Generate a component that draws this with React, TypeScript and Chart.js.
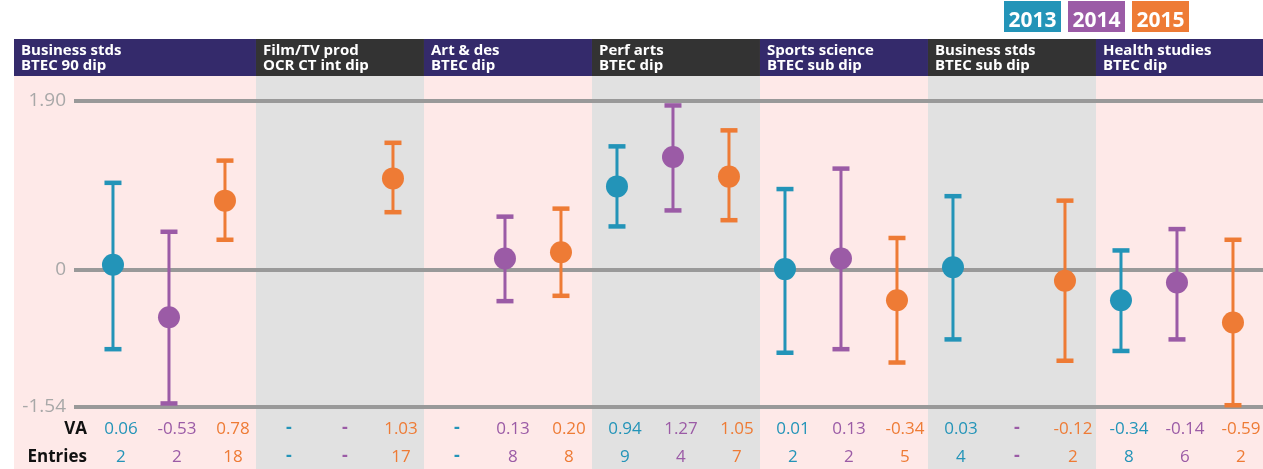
import { useEffect, useRef } from 'react';
import { Chart, registerables } from 'chart.js';

Chart.register(...registerables);

// ---- Data ----
const groupLine1 = ['Business stds', 'Film/TV prod', 'Art & des', 'Perf arts', 'Sports science', 'Business stds', 'Health studies'];
const groupLine2 = ['BTEC 90 dip', 'OCR CT int dip', 'BTEC dip', 'BTEC dip', 'BTEC sub dip', 'BTEC sub dip', 'BTEC dip'];
const years = ['2013', '2014', '2015'];

const va2013 = [0.06, null, null, 0.94, 0.01, 0.03, -0.34];
const va2014 = [-0.53, null, 0.13, 1.27, 0.13, null, -0.14];
const va2015 = [0.78, 1.03, 0.20, 1.05, -0.34, -0.12, -0.59];

const upper2013 = [0.98, null, null, 1.39, 0.91, 0.83, 0.22];
const lower2013 = [-0.89, null, null, 0.49, -0.93, -0.78, -0.91];
const upper2014 = [0.43, null, 0.60, 1.85, 1.14, null, 0.46];
const lower2014 = [-1.50, null, -0.35, 0.67, -0.89, null, -0.78];
const upper2015 = [1.23, 1.43, 0.69, 1.57, 0.36, 0.78, 0.34];
const lower2015 = [0.34, 0.65, -0.29, 0.56, -1.04, -1.02, -1.52];

const entries2013 = [2, null, null, 9, 2, 4, 8];
const entries2014 = [2, null, 8, 4, 2, null, 6];
const entries2015 = [18, 17, 8, 7, 5, 2, 2];

const yTickValues = [-1.54, 0, 1.9];

// ---- Styles ----
const yearColors = ['#2394b8', '#9b5ba6', '#ee7b35'];
const pinkBand = '#fee9e8';
const greyBand = '#e1e1e1';
const headerNavy = '#342a6b';
const headerDark = '#333333';
const FONT = '"Open Sans", "DejaVu Sans", sans-serif';

export default function App() {
  const ref = useRef<HTMLCanvasElement>(null);

  useEffect(() => {
    const canvas = ref.current;
    if (!canvas) return;

    const vaSeries = [va2013, va2014, va2015];
    const upSeries = [upper2013, upper2014, upper2015];
    const loSeries = [lower2013, lower2014, lower2015];
    const entSeries = [entries2013, entries2014, entries2015];

    const datasets = vaSeries.map((arr, yi) => ({
      label: years[yi],
      data: arr
        .map((v, gi) => (v == null ? null : { x: gi * 3 + yi, y: v }))
        .filter((p) => p !== null) as { x: number; y: number }[],
      backgroundColor: yearColors[yi],
      borderWidth: 0,
      pointRadius: 11,
      pointHoverRadius: 11,
      showLine: false,
      clip: false as any,
    }));

    const deco = {
      id: 'deco',
      beforeDraw(chart: any) {
        const { ctx, width, height } = chart;
        const x = chart.scales.x;
        ctx.save();
        const bounds: number[] = [14];
        for (let k = 1; k < groupLine1.length; k++) bounds.push(x.getPixelForValue(3 * k - 0.5) + 3);
        bounds.push(width);
        for (let k = 0; k < groupLine1.length; k++) {
          const x0 = bounds[k];
          const w = bounds[k + 1] - x0;
          ctx.fillStyle = k % 2 ? greyBand : pinkBand;
          ctx.fillRect(x0, 76, w, height - 76);
          ctx.fillStyle = k % 2 ? headerDark : headerNavy;
          ctx.fillRect(x0, 39, w, 37);
          ctx.fillStyle = '#ffffff';
          ctx.font = `bold 15px ${FONT}`;
          ctx.textAlign = 'left';
          ctx.textBaseline = 'alphabetic';
          ctx.fillText(groupLine1[k], x0 + 7, 55);
          ctx.fillText(groupLine2[k], x0 + 7, 70);
        }
        // legend
        for (let yi = 0; yi < years.length; yi++) {
          const lx = 1004 + yi * 64;
          ctx.fillStyle = yearColors[yi];
          ctx.fillRect(lx, 1, 57, 31);
          ctx.fillStyle = '#ffffff';
          ctx.font = `bold 21px ${FONT}`;
          ctx.textAlign = 'center';
          ctx.textBaseline = 'alphabetic';
          ctx.fillText(years[yi], lx + 28.5, 27);
        }
        ctx.restore();
      },
      beforeDatasetsDraw(chart: any) {
        const { ctx } = chart;
        const x = chart.scales.x;
        const y = chart.scales.y;
        ctx.save();
        for (let yi = 0; yi < years.length; yi++) {
          for (let gi = 0; gi < groupLine1.length; gi++) {
            const up = upSeries[yi][gi];
            const lo = loSeries[yi][gi];
            if (up == null || lo == null) continue;
            const px = x.getPixelForValue(gi * 3 + yi);
            const py1 = y.getPixelForValue(up);
            const py2 = y.getPixelForValue(lo);
            ctx.strokeStyle = yearColors[yi];
            ctx.lineWidth = 3;
            ctx.beginPath();
            ctx.moveTo(px, py1);
            ctx.lineTo(px, py2);
            ctx.stroke();
            ctx.fillStyle = yearColors[yi];
            ctx.fillRect(px - 8.5, py1 - 2.25, 17, 4.5);
            ctx.fillRect(px - 8.5, py2 - 2.25, 17, 4.5);
          }
        }
        ctx.restore();
      },
      afterDraw(chart: any) {
        const { ctx } = chart;
        const x = chart.scales.x;
        ctx.save();
        ctx.textBaseline = 'middle';
        ctx.fillStyle = '#111111';
        ctx.font = `bold 17px ${FONT}`;
        ctx.textAlign = 'right';
        ctx.fillText('VA', 87, 429);
        ctx.fillText('Entries', 87, 457);
        ctx.textAlign = 'center';
        for (let yi = 0; yi < years.length; yi++) {
          for (let gi = 0; gi < groupLine1.length; gi++) {
            const cx = x.getPixelForValue(gi * 3 + yi) + 8;
            const v = vaSeries[yi][gi];
            const e = entSeries[yi][gi];
            ctx.fillStyle = yearColors[yi];
            if (v == null) {
              ctx.font = `bold 18px ${FONT}`;
              ctx.fillText('-', cx, 428);
            } else {
              ctx.font = `17px ${FONT}`;
              ctx.fillText(v.toFixed(2), cx, 429);
            }
            if (e == null) {
              ctx.font = `bold 18px ${FONT}`;
              ctx.fillText('-', cx, 456);
            } else {
              ctx.font = `17px ${FONT}`;
              ctx.fillText(String(e), cx, 457);
            }
          }
        }
        ctx.restore();
      },
    };

    const chart = new Chart(canvas, {
      type: 'scatter',
      data: { datasets },
      options: {
        animation: false,
        responsive: false,
        events: [],
        layout: { autoPadding: false, padding: { left: 0, right: 0, top: 101, bottom: 62 } },
        plugins: { legend: { display: false }, tooltip: { enabled: false } },
        scales: {
          x: {
            type: 'linear',
            display: false,
            min: -0.696,
            max: 20.536,
          },
          y: {
            type: 'linear',
            min: -1.54,
            max: 1.9,
            afterFit(scale: any) {
              scale.width = 74;
            },
            afterBuildTicks(scale: any) {
              scale.ticks = yTickValues.map((v) => ({ value: v }));
            },
            border: { display: false },
            grid: { color: '#999999', lineWidth: 4, drawTicks: false },
            ticks: {
              padding: 8,
              color: '#a8a8a8',
              font: { family: FONT, size: 19 },
              callback: (v: any) => (Number(v) === 0 ? '0' : Number(v).toFixed(2)),
            },
          },
        },
      },
      plugins: [deco],
    });
    return () => chart.destroy();
  }, []);

  return (
    <div style={{ position: 'absolute', left: 0, top: 0, width: 1263, height: 469 }}>
      <canvas ref={ref} width={1263} height={469} style={{ display: 'block' }} />
    </div>
  );
}
